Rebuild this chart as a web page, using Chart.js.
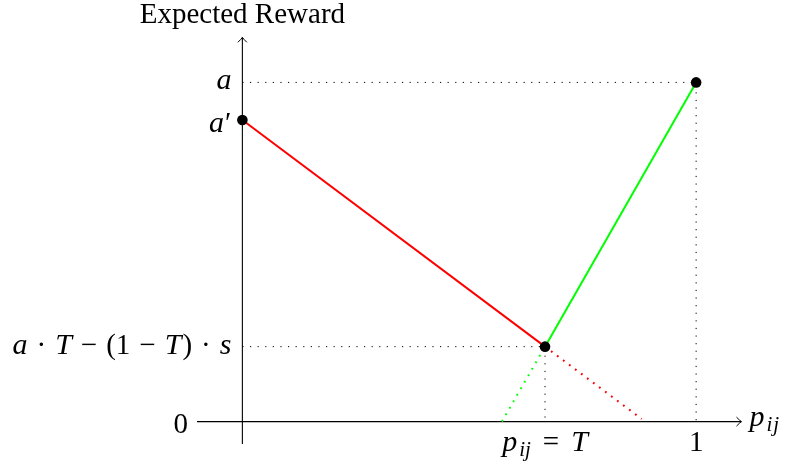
<!DOCTYPE html>
<html lang="en">
<head>
    <meta charset="UTF-8">
    <title>Expected Reward</title>
    <script src="https://cdn.jsdelivr.net/npm/chart.js"></script>
    <style>
        html, body { margin: 0; padding: 0; background: #fff; }
        #wrap { width: 785px; height: 462px; }
    </style>
</head>
<body>
    <div id="wrap"><canvas id="rewardChart" width="785" height="462"></canvas></div>

    <script>
        // values (x: p_ij from 0 to 1, y: reward with a = 1)
        const threshold = 0.667;         // T
        const aValue = 1;                // a
        const aPrime = 0.889;            // a'
        const crossValue = 0.221;        // a*T - (1-T)*s
        const xRange = [-0.1, 1.1];
        const yRange = [-0.066, 1.133];

        const redSolid = [{x: 0, y: aPrime}, {x: threshold, y: crossValue}];
        const redDotted = [{x: threshold, y: crossValue}, {x: 0.88, y: 0.008}];
        const greenSolid = [{x: threshold, y: crossValue}, {x: 1, y: aValue}];
        const greenDotted = [{x: 0.572, y: 0}, {x: threshold, y: crossValue}];
        const keyPoints = [{x: 0, y: aPrime}, {x: threshold, y: crossValue}, {x: 1, y: aValue}];

        const guideA = [{x: 0, y: aValue}, {x: 1, y: aValue}, {x: 1, y: 0}];
        const guideCross = [{x: 0, y: crossValue}, {x: threshold, y: crossValue}, {x: threshold, y: 0}];

        const xAxisLine = [{x: xRange[0], y: 0}, {x: xRange[1], y: 0}];
        const yAxisLine = [{x: 0, y: yRange[0]}, {x: 0, y: yRange[1]}];

        // tick labels: parts are [text, kind] with kind r = roman, i = italic, s = subscript, or a number = gap in px
        const yTickValues = [aValue, aPrime, crossValue];
        const yTickLabels = [
            [['a', 'i']],
            [['a', 'i'], 1, ['′', 'r']],
            [['a', 'i'], 9, ['·', 'r'], 9, ['T', 'i'], 9, ['−', 'r'], 9, ['(', 'r'], ['1', 'r'], 9, ['−', 'r'], 9, ['T', 'i'], 1, [')', 'r'], 9, ['·', 'r'], 9, ['s', 'i']]
        ];
        const xTickValues = [threshold, 1];
        const xTickLabels = [
            [['p', 'i'], 2, ['ij', 's'], 12, ['=', 'r'], 12, ['T', 'i']],
            [['1', 'r']]
        ];
        const zeroLabel = [['0', 'r']];
        const xAxisTitle = [['p', 'i'], 2, ['i', 's'], 1, ['j', 's']];
        const yAxisTitle = 'Expected Reward';

        const F = 29;
        const fontFor = (kind) => {
            if (kind === 'i') return 'italic ' + (F + 1) + 'px "Liberation Serif"';
            if (kind === 's') return 'italic ' + Math.round(F * 0.74) + 'px "Liberation Serif"';
            return F + 'px "Liberation Serif"';
        };

        function drawMath(ctx, parts, x, y, align) {
            let total = 0;
            const widths = parts.map(p => {
                if (typeof p === 'number') return p;
                ctx.font = fontFor(p[1]);
                return ctx.measureText(p[0]).width;
            });
            widths.forEach(w => total += w);
            let cx = x;
            if (align === 'right') cx = x - total;
            if (align === 'center') cx = x - total / 2;
            ctx.textAlign = 'left';
            ctx.textBaseline = 'alphabetic';
            ctx.fillStyle = '#000';
            parts.forEach((p, i) => {
                if (typeof p !== 'number') {
                    ctx.font = fontFor(p[1]);
                    const dy = p[1] === 's' ? 5 : 0;
                    ctx.fillText(p[0], cx, y + dy);
                }
                cx += widths[i];
            });
        }

        function arrowHead(ctx, tx, ty, dir) {
            ctx.save();
            ctx.translate(tx, ty);
            if (dir === 'up') ctx.rotate(-Math.PI / 2);
            ctx.beginPath();
            ctx.moveTo(-5, -4.5);
            ctx.quadraticCurveTo(-1.5, -0.8, 0, 0);
            ctx.quadraticCurveTo(-1.5, 0.8, -5, 4.5);
            ctx.lineWidth = 1;
            ctx.strokeStyle = '#000';
            ctx.stroke();
            ctx.restore();
        }

        const labelsPlugin = {
            id: 'texLabels',
            afterDatasetsDraw(chart) {
                const ctx = chart.ctx;
                const xs = chart.scales.x;
                const ys = chart.scales.y;
                const x0 = xs.getPixelForValue(0);
                const y0 = ys.getPixelForValue(0);

                arrowHead(ctx, xs.getPixelForValue(xRange[1]), y0, 'right');
                arrowHead(ctx, x0, ys.getPixelForValue(yRange[1]), 'up');

                const yOffsets = [7, 12, 7];
                yTickValues.forEach((v, i) => {
                    drawMath(ctx, yTickLabels[i], x0 - 11, ys.getPixelForValue(v) + yOffsets[i], 'right');
                });
                drawMath(ctx, zeroLabel, xs.getPixelForValue(xRange[0]) - 9, y0 + 11, 'right');

                xTickValues.forEach((v, i) => {
                    drawMath(ctx, xTickLabels[i], xs.getPixelForValue(v), y0 + 29, 'center');
                });
                drawMath(ctx, xAxisTitle, xs.getPixelForValue(xRange[1]) + 8, y0 + 4, 'left');

                ctx.font = F + 'px "Liberation Serif"';
                ctx.textAlign = 'center';
                ctx.fillText(yAxisTitle, x0, 23);
            }
        };

        const lineSet = (data, color, width, dash, order) => ({
            data: data,
            showLine: true,
            borderColor: color,
            borderWidth: width,
            borderDash: dash,
            pointRadius: 0,
            fill: false,
            order: order
        });

        const ctxReward = document.getElementById('rewardChart').getContext('2d');
        const rewardChart = new Chart(ctxReward, {
            type: 'scatter',
            data: {
                datasets: [
                    {data: keyPoints, pointRadius: 5.3, pointBackgroundColor: '#000', pointBorderWidth: 0, showLine: false, order: 0},
                    lineSet(redSolid, '#ff0000', 2, [], 1),
                    lineSet(greenSolid, '#00ff00', 2, [], 1),
                    lineSet(redDotted, '#ff0000', 2, [1.8, 5.7], 1),
                    lineSet(greenDotted, '#00ff00', 2, [1.8, 5.7], 1),
                    lineSet(guideA, '#000', 1, [1.2, 6.4], 2),
                    lineSet(guideCross, '#000', 1, [1.2, 6.4], 2),
                    lineSet(xAxisLine, '#000', 1.1, [], 3),
                    lineSet(yAxisLine, '#000', 1.1, [], 3)
                ]
            },
            options: {
                responsive: false,
                animation: false,
                events: [],
                layout: { padding: { left: 197, right: 43.5, top: 37.3, bottom: 18 } },
                scales: {
                    x: { type: 'linear', min: xRange[0], max: xRange[1], display: false },
                    y: { type: 'linear', min: yRange[0], max: yRange[1], display: false }
                },
                plugins: { legend: { display: false }, tooltip: { enabled: false } }
            },
            plugins: [labelsPlugin]
        });
    </script>
</body>
</html>
